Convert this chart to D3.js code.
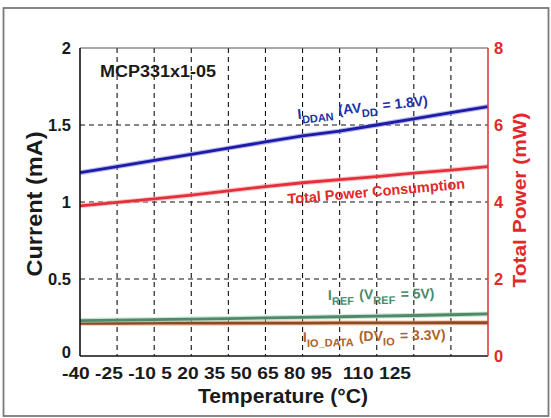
<!DOCTYPE html>
<html>
<head>
<meta charset="utf-8">
<script src="https://cdn.jsdelivr.net/npm/d3@7"></script>
<style>
  html, body { margin: 0; padding: 0; background: #fff; }
  svg { display: block; }
  text { font-family: "Liberation Sans", Arial, Helvetica, sans-serif; font-weight: bold; }
</style>
</head>
<body>
<svg id="chart" width="551" height="418"></svg>
<script>
// ---- data ----
const temperatures = [-40, -25, -10, 5, 20, 35, 50, 65, 80, 95, 110, 125];
const tickLabels = ["-40", "-25", "-10", "5", "20", "35", "50", "65", "80", "95", "\u00A0110", "125"];
const iDDAN = [1.19, 1.23, 1.27, 1.31, 1.35, 1.39, 1.43, 1.46, 1.50, 1.54, 1.58, 1.62];          // mA
const totalPower = [3.90, 3.99, 4.08, 4.18, 4.29, 4.40, 4.50, 4.58, 4.66, 4.75, 4.83, 4.92];    // mW
const iREF = [0.230, 0.233, 0.236, 0.240, 0.243, 0.247, 0.251, 0.255, 0.259, 0.263, 0.268, 0.273]; // mA
const iIO = [0.212, 0.212, 0.213, 0.213, 0.213, 0.214, 0.214, 0.215, 0.215, 0.215, 0.216, 0.216];  // mA
const leftTicks = [0, 0.5, 1, 1.5, 2];
const rightTicks = [0, 2, 4, 6, 8];

// ---- layout ----
const svg = d3.select("#chart");
const L = 80, R = 488, T = 48, B = 356;
const x = d3.scaleLinear().domain([-40, 125]).range([L, R]);
const y = d3.scaleLinear().domain([0, 2]).range([B, T]);
const y2 = d3.scaleLinear().domain([0, 8]).range([B, T]);
const NB = "\u00A0";

// outer frame
svg.append("rect").attr("x", 3.5).attr("y", 8).attr("width", 545).attr("height", 408)
  .attr("fill", "#fff").attr("stroke", "#7a7a7a").attr("stroke-width", 1.8);

// grid
const grid = svg.append("g").attr("stroke", "#111").attr("stroke-width", 1.1).attr("stroke-dasharray", "5,4");
grid.selectAll("line.v").data(temperatures.slice(1, -1)).join("line")
  .attr("x1", d => x(d)).attr("x2", d => x(d)).attr("y1", T).attr("y2", B);
grid.selectAll("line.h").data(leftTicks.slice(1, -1)).join("line")
  .attr("x1", L).attr("x2", R).attr("y1", d => y(d)).attr("y2", d => y(d));

// plot border
svg.append("line").attr("x1", L).attr("x2", R).attr("y1", T).attr("y2", T).attr("stroke", "#555").attr("stroke-width", 1.2);

// lines
const line = (ys, sc) => d3.line().x((d, i) => x(temperatures[i])).y(d => sc(d))(ys);
const series = [
  {v: iIO, sc: y, c: "#8a4a26", halo: "#f0a070"},
  {v: iREF, sc: y, c: "#4f8a68", halo: "#a8d0b8"},
  {v: totalPower, sc: y2, c: "#e3303a", halo: "#f4a0a4"},
  {v: iDDAN, sc: y, c: "#1c1ca8", halo: "#8c8ce0"}
];
series.forEach(s => {
  svg.append("path").attr("d", line(s.v, s.sc)).attr("fill", "none").attr("stroke", s.halo).attr("stroke-width", 5).attr("opacity", 0.6);
  svg.append("path").attr("d", line(s.v, s.sc)).attr("fill", "none").attr("stroke", s.c).attr("stroke-width", 2.8);
});

// axes lines
svg.append("line").attr("x1", L).attr("x2", L).attr("y1", T).attr("y2", B).attr("stroke", "#111").attr("stroke-width", 1.6);
svg.append("line").attr("x1", L).attr("x2", R).attr("y1", B).attr("y2", B).attr("stroke", "#111").attr("stroke-width", 1.6);
svg.append("line").attr("x1", R).attr("x2", R).attr("y1", T).attr("y2", B).attr("stroke", "#e03a3a").attr("stroke-width", 1.6);

// left tick labels
svg.append("g").selectAll("text").data(leftTicks).join("text")
  .attr("x", 71).attr("y", d => y(d)).attr("dy", d => d === 0 ? "0.12em" : "0.36em").attr("text-anchor", "end")
  .attr("font-size", 16.5).attr("fill", "#1a1a1a").text(d => d);
// right tick labels
svg.append("g").selectAll("text").data(rightTicks).join("text")
  .attr("x", 494).attr("y", d => y2(d)).attr("dy", "0.36em").attr("text-anchor", "start")
  .attr("font-size", 16.5).attr("fill", "#e02a2a").text(d => d);

// bottom tick labels (as printed, one run of text)
svg.append("text").attr("x", 62).attr("y", 379).attr("font-size", 17).attr("fill", "#1a1a1a")
  .attr("textLength", 349).attr("lengthAdjust", "spacingAndGlyphs")
  .text(tickLabels.join(" "));

// axis titles
svg.append("text").attr("x", 198).attr("y", 403).attr("font-size", 19.5).attr("fill", "#1a1a1a")
  .attr("textLength", 170).attr("lengthAdjust", "spacingAndGlyphs").text("Temperature (°C)");
svg.append("text").attr("transform", "translate(42,204) rotate(-90)").attr("text-anchor", "middle")
  .attr("font-size", 22).attr("fill", "#1a1a1a")
  .attr("textLength", 145).attr("lengthAdjust", "spacingAndGlyphs").text("Current (mA)");
svg.append("text").attr("transform", "translate(526,200) rotate(-90)").attr("text-anchor", "middle")
  .attr("font-size", 19).attr("fill", "#e02a2a")
  .attr("textLength", 175).attr("lengthAdjust", "spacingAndGlyphs").text("Total Power (mW)");

// chart title
svg.append("text").attr("x", 100).attr("y", 77).attr("font-size", 16).attr("fill", "#1a1a1a")
  .attr("textLength", 116).attr("lengthAdjust", "spacingAndGlyphs").text("MCP331x1-05");

// series labels
function subLabel(parts, xPos, yPos, angle, color) {
  const t = svg.append("text").attr("transform", `translate(${xPos},${yPos}) rotate(${angle})`)
    .attr("fill", color).attr("font-size", 14);
  parts.forEach(p => {
    t.append("tspan").attr("font-size", p.sub ? 11 : 14)
      .attr("dy", p.sub ? 5 : (p.back ? -5 : 0))
      .attr("dx", p.back ? 1.5 : 0)
      .text(p.t);
  });
  return t;
}
subLabel([{t: "I"}, {t: "DDAN", sub: true}, {t: NB + "(AV", back: true}, {t: "DD", sub: true}, {t: NB + "=" + NB + "1.8V)", back: true}],
  298, 119, -6, "#2030a8");
subLabel([{t: "I"}, {t: "REF", sub: true}, {t: NB + "(V", back: true}, {t: "REF", sub: true}, {t: NB + "=" + NB + "5V)", back: true}],
  328, 300, -1, "#4a8a6c");
subLabel([{t: "I"}, {t: "IO_DATA", sub: true}, {t: NB + "(DV", back: true}, {t: "IO", sub: true}, {t: NB + "=" + NB + "3.3V)", back: true}],
  303, 342, -1, "#b0622a");
svg.append("text").attr("transform", "translate(288,204) rotate(-5)").attr("fill", "#e02a2a")
  .attr("font-size", 14.5).attr("textLength", 178).attr("lengthAdjust", "spacingAndGlyphs")
  .text("Total Power Consumption");
</script>
</body>
</html>
